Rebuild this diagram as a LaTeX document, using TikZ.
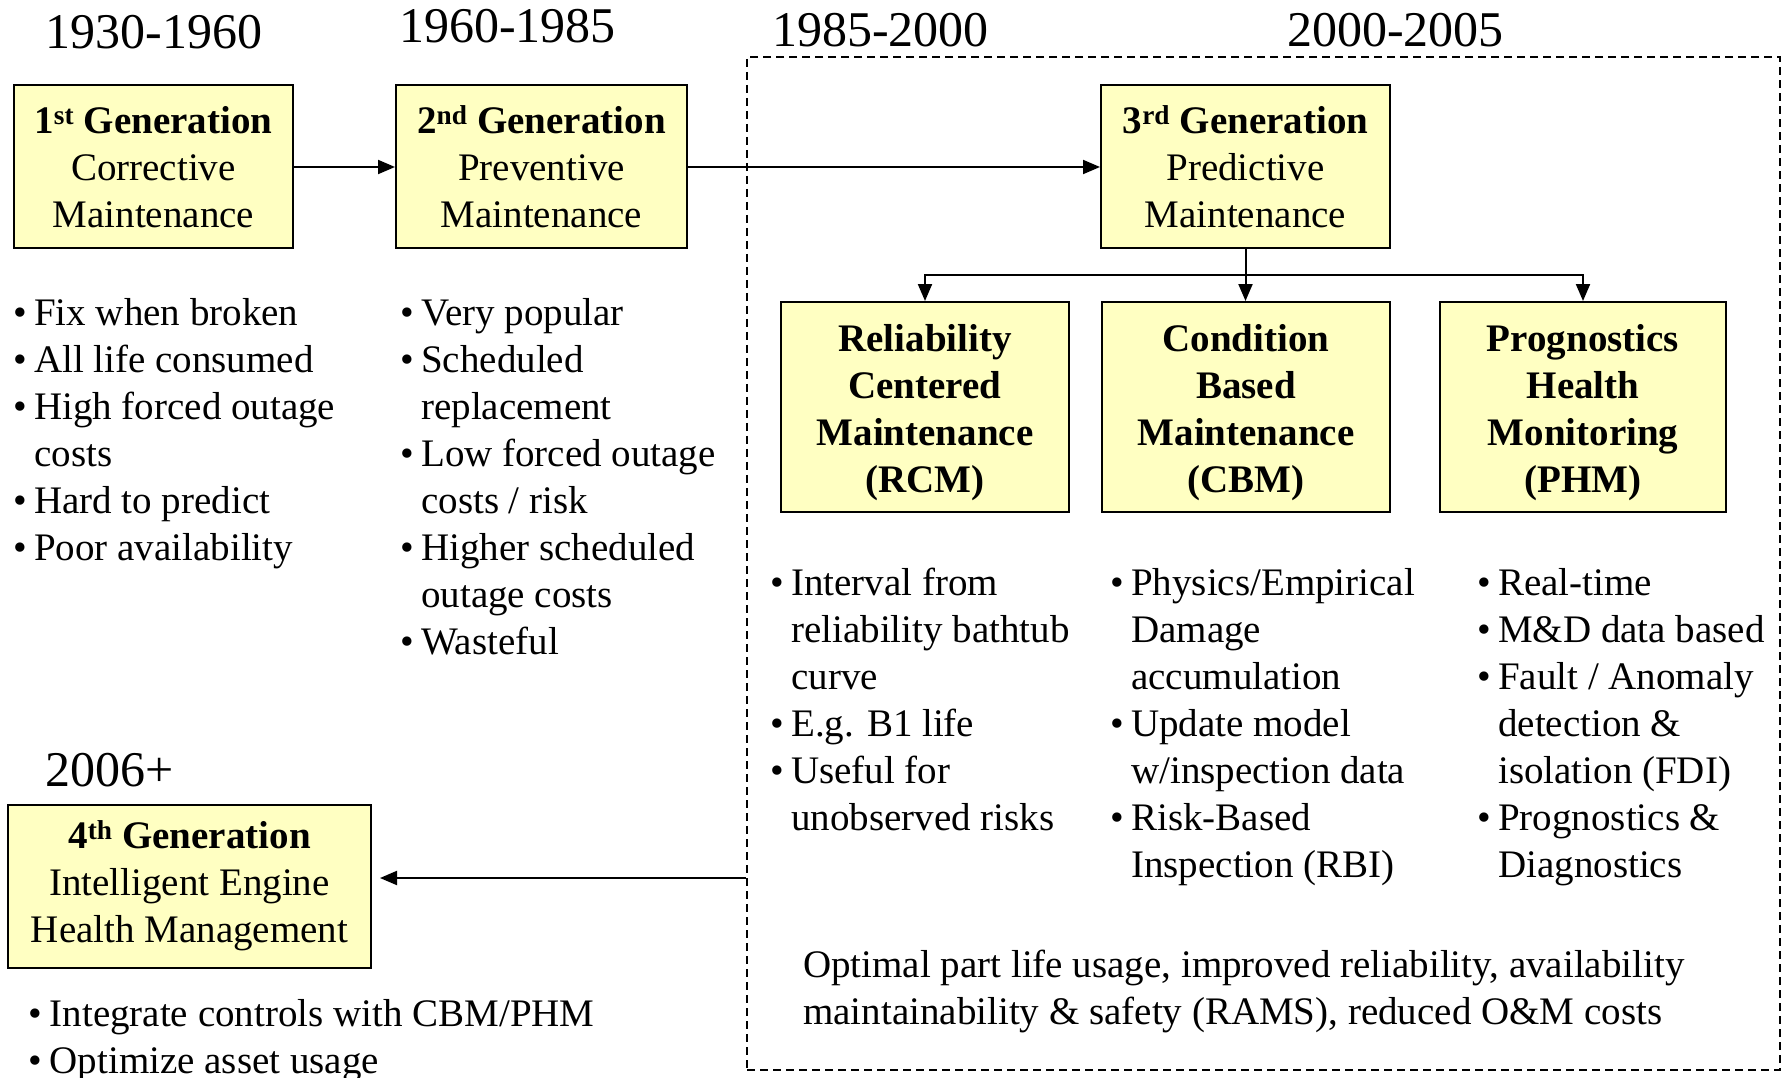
\documentclass[tikz,border=0pt]{standalone}
\usepackage{fontspec}
\setmainfont{Liberation Serif}
\usetikzlibrary{arrows.meta}
\definecolor{boxfill}{RGB}{255,255,194}
\tikzset{
  genbox/.style={draw=black, line width=2pt, fill=boxfill, align=center, inner sep=0pt,
    font=\fontsize{39}{47}\selectfont},
  subtext/.style={align=center, inner sep=0pt, font=\fontsize{39}{47}\selectfont\bfseries},
  arr/.style={line width=2pt, -{Triangle[length=17pt,width=14pt]}},
  ln/.style={line width=2pt},
  yearlbl/.style={font=\fontsize{50}{60}\selectfont, inner sep=0pt, anchor=base west},
  blist/.style={font=\fontsize{39}{47}\selectfont, inner sep=0pt, anchor=north west, align=left},
  erabox/.style={draw=black, line width=2pt, dash pattern=on 8pt off 5pt, inner sep=0pt},
}
\newcommand\bul{\makebox[21pt][l]{\textbullet}}
\newcommand\cnt{\hspace*{21pt}}
\begin{document}
\begin{tikzpicture}[x=1pt,y=-1pt]
\useasboundingbox (0,0) rectangle (1789,1078);
\fill[white] (0,0) rectangle (1789,1078);

% dashed era box
\node[erabox, minimum width=1033pt, minimum height=1013pt] (era3) at (1263.5,563.5) {};

% year labels
\node[yearlbl] (y1) at (45.6,49) {1930-1960};
\node[yearlbl] (y2) at (399,43) {1960-1985};
\node[yearlbl] (y3) at (772,46.5) {1985-2000};
\node[yearlbl] (y4) at (1287,46.5) {2000-2005};
\node[yearlbl] (y5) at (45.6,786) {2006+};

% generation boxes
\node[genbox, minimum width=279pt, minimum height=163pt] (g1) at (153.4,167)
  {\textbf{1\textsuperscript{st} Generation}\\Corrective\\Maintenance};
\node[genbox, minimum width=291pt, minimum height=163pt] (g2) at (541.5,167)
  {\textbf{2\textsuperscript{nd} Generation}\\Preventive\\Maintenance};
\node[genbox, minimum width=289pt, minimum height=163pt] (g3) at (1245.5,167)
  {\textbf{3\textsuperscript{rd} Generation}\\Predictive\\Maintenance};
\node[genbox, minimum width=363pt, minimum height=163pt] (g4) at (189.5,886)
  {\textbf{4\textsuperscript{th} Generation}\\Intelligent Engine\\Health Management};

% sub boxes
\node[genbox, minimum width=288pt, minimum height=210pt] (rcm) at (925,407) {};
\node[genbox, minimum width=288pt, minimum height=210pt] (cbm) at (1246,407) {};
\node[genbox, minimum width=286pt, minimum height=210pt] (phm) at (1583,407) {};
\node[subtext] (rcmt) at ([yshift=-6pt]rcm.center) {Reliability\\Centered\\Maintenance\\(RCM)};
\node[subtext] (cbmt) at ([yshift=-6pt]cbm.center) {Condition\\Based\\Maintenance\\(CBM)};
\node[subtext] (phmt) at ([yshift=-6pt]phm.center) {Prognostics\\Health\\Monitoring\\(PHM)};

% connectors
\draw[arr] (g1) -- (g2);
\draw[arr] (g2) -- (g3);
\coordinate (br) at (1245.5,275);
\draw[ln] (g3.south) -- (br);
\draw[arr] (br) -| (rcm.north);
\draw[arr] (br) -| (phm.north);
\draw[arr] (br) -- (br |- cbm.north);
\coordinate (g4a) at ([yshift=8pt]g4.east);
\draw[arr, shorten >=8pt] (era3.west |- g4a) -- (g4a);

% bullet lists
\node[blist] (l1) at (13,292) {\strut\bul Fix when broken\\\bul All life consumed\\\bul High forced outage\\\cnt costs\\\bul Hard to predict\\\bul Poor availability};
\node[blist] (l2) at (400,292) {\strut\bul Very popular\\\bul Scheduled\\\cnt replacement\\\bul Low forced outage\\\cnt costs / risk\\\bul Higher scheduled\\\cnt outage costs\\\bul Wasteful};
\node[blist] (l3) at (770,562.6) {\strut\bul Interval from\\\cnt reliability bathtub\\\cnt curve\\\bul E.g. B1 life\\\bul Useful for\\\cnt unobserved risks};
\node[blist] (l4) at (1110,562.6) {\strut\bul Physics/Empirical\\\cnt Damage\\\cnt accumulation\\\bul Update model\\\cnt w/inspection data\\\bul Risk-Based\\\cnt Inspection (RBI)};
\node[blist] (l5) at (1477,562.6) {\strut\bul Real-time\\\bul M\&D data based\\\bul Fault / Anomaly\\\cnt detection \&\\\cnt isolation (FDI)\\\bul Prognostics \&\\\cnt Diagnostics};
\node[blist] (l6) at (803,944.6) {\strut Optimal part life usage, improved reliability, availability\\maintainability \& safety (RAMS), reduced O\&M costs};
\node[blist] (l7) at (28.5,993.6) {\strut\bul Integrate controls with CBM/PHM\\\bul Optimize asset usage};
\end{tikzpicture}
\end{document}
